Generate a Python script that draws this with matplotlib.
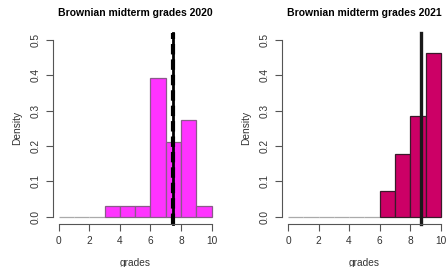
import matplotlib.pyplot as plt

plt.rcParams['font.family'] = ['Liberation Sans', 'DejaVu Sans']

bin_edges = [0, 1, 2, 3, 4, 5, 6, 7, 8, 9, 10]
counts_2020 = [0, 0, 0, 1, 1, 1, 13, 7, 9, 1]
counts_2021 = [0, 0, 0, 0, 0, 0, 2, 5, 8, 13]
mean_2020 = 7.45
median_2020 = 7.5
mean_2021 = 8.68
x_ticks = [0, 2, 4, 6, 8, 10]
y_ticks = [0.0, 0.1, 0.2, 0.3, 0.4, 0.5]

TEXT = '#333333'
AXIS = '#555555'


def style_axes(ax, title):
    for side in ['top', 'right']:
        ax.spines[side].set_visible(False)
    ax.spines['left'].set_bounds(0, 0.5)
    ax.spines['bottom'].set_bounds(0, 10)
    for side in ['left', 'bottom']:
        ax.spines[side].set_color(AXIS)
        ax.spines[side].set_linewidth(0.8)
    ax.set_xlim(-0.4, 10.4)
    ax.set_ylim(-0.02, 0.52)
    ax.set_xticks(x_ticks)
    ax.set_yticks(y_ticks)
    ax.set_yticklabels([f'{v:.1f}' for v in y_ticks], rotation=90, va='center')
    ax.tick_params(length=5, width=0.8, color=AXIS, labelcolor=TEXT, labelsize=7.3, pad=4)
    ax.set_xlabel('grades', fontsize=7.3, color=TEXT, labelpad=8.5)
    ax.set_ylabel('Density', fontsize=7.3, color=TEXT, labelpad=6)
    ax.set_title(title, fontsize=7.5, fontweight='bold', pad=12)


def draw_hist(ax, counts, face, edge):
    total = sum(counts)
    dens = [c / total for c in counts]
    lefts = bin_edges[:-1]
    widths = [b - a for a, b in zip(bin_edges[:-1], bin_edges[1:])]
    edges = [edge if c > 0 else '#aaaaaa' for c in counts]
    ax.bar(lefts, dens, width=widths, align='edge', color=face,
           edgecolor=edges, linewidth=0.9)


fig = plt.figure(figsize=(4.46, 2.67), dpi=100)
ax1 = fig.add_axes([0.118, 0.162, 0.370, 0.714])
ax2 = fig.add_axes([0.632, 0.162, 0.370, 0.714])

draw_hist(ax1, counts_2020, '#ff33ff', '#8a5a8a')
ax1.axvline(mean_2020, color='black', lw=2.0, clip_on=False)
ax1.axvline(median_2020, color='black', lw=3.0, ls=(0, (2.5, 1.2)), clip_on=False)
style_axes(ax1, 'Brownian midterm grades 2020')

draw_hist(ax2, counts_2021, '#cc0066', '#3a1a2a')
ax2.axvline(mean_2021, color='#1a1a1a', lw=2.4, clip_on=False)
style_axes(ax2, 'Brownian midterm grades 2021')

fig.savefig('out.png', dpi=100)
